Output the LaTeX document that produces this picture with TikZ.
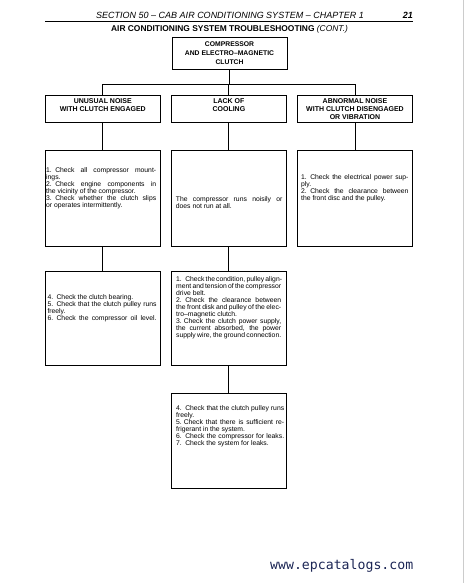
\documentclass[tikz,border=0pt]{standalone}
\usepackage{fontspec}
\setmainfont{Liberation Sans}
\newfontfamily\wmfont{DejaVu Sans Mono}
\definecolor{wmblue}{RGB}{28,38,85}
\newlength\mywd
\newcommand\myJ[1]{\hbox to\mywd{\spaceskip=1.9pt plus 20pt minus 0.8pt\relax\xspaceskip=\spaceskip\relax #1}}
\newcommand\myL[1]{\hbox to\mywd{#1\hfil}}
\newcommand\numdot[1]{#1.\kern3.4pt}
\newcommand\numdotS[1]{#1.\kern1.9pt}
\tikzset{
  box/.style={draw, line width=0.9pt, minimum width=115pt, inner sep=0pt},
  conn/.style={line width=0.9pt},
  head/.style={font=\fontsize{7}{8}\selectfont\bfseries, align=center, inner sep=0pt},
  body/.style={font=\fontsize{6.8}{7}\selectfont, inner sep=0pt, anchor=north west, align=left},
}
\begin{document}
\begin{tikzpicture}[x=1pt,y=-1pt]
\fill[white] (0,0) rectangle (464,583);
\useasboundingbox (0,0) rectangle (464,583);
\draw[gray!40, line width=0.6pt] (463.4,0) -- (463.4,583);
% header
\node[font=\fontsize{9}{10}\selectfont\itshape, inner sep=0pt] (hdr) at (230,15) {SECTION 50 \textendash\ CAB AIR CONDITIONING SYSTEM \textendash\ CHAPTER 1};
\node[font=\fontsize{9}{10}\selectfont\bfseries\itshape, inner sep=0pt, anchor=east] (pg) at (413,15) {21};
\coordinate (rl) at (45,21.5);
\coordinate (rr) at (413,21.5);
\draw[line width=0.8pt] (rl) -- (rr);
\node[font=\fontsize{8.4}{10}\selectfont\bfseries, inner sep=0pt] (sub) at (229.5,29) {AIR CONDITIONING SYSTEM TROUBLESHOOTING {\mdseries\itshape (CONT.)}};
% boxes
\node[box, minimum height=32pt, font=\fontsize{6.8}{9}\selectfont\bfseries, align=center] (top) at (229.5,53) {COMPRESSOR\\AND ELECTRO\textendash MAGNETIC\\CLUTCH};
\node[box, minimum height=27pt] (r2a) at (102.8,108.8) {};
\node[box, minimum height=27pt] (r2b) at (228.9,108.8) {};
\node[box, minimum height=27pt] (r2c) at (355,108.8) {};
\node[box, minimum height=96pt] (r3a) at (102.8,198) {};
\node[box, minimum height=96pt] (r3b) at (228.9,198) {};
\node[box, minimum height=96pt] (r3c) at (355,198) {};
\node[box, minimum height=94.4pt] (r4a) at (102.8,318.5) {};
\node[box, minimum height=94.4pt] (r4b) at (228.9,318.5) {};
\node[box, minimum height=95pt] (r5) at (228.9,440.8) {};
% connectors
\coordinate (bus) at (0,84.3);
\draw[conn] (top.south) -- (top.south |- bus);
\draw[conn] (r2a.north) -- (r2a.north |- bus) -- (r2c.north |- bus) -- (r2c.north);
\draw[conn] (r2b.north) -- (r2b.north |- bus);
\draw[conn] (r2a.south) -- (r3a.north);
\draw[conn] (r2b.south) -- (r3b.north);
\draw[conn] (r2c.south) -- (r3c.north);
\draw[conn] (r3a.south) -- (r4a.north);
\draw[conn] (r3b.south) -- (r4b.north);
\draw[conn] (r4b.south) -- (r5.north);
% row 2 labels
\node[head, anchor=north] (l2a) at (102.8,98.2) {UNUSUAL NOISE\\WITH CLUTCH ENGAGED};
\node[head, anchor=north] (l2b) at (228.9,98.2) {LACK OF\\COOLING};
\node[head, anchor=north] (l2c) at (355,98.2) {ABNORMAL NOISE\\WITH CLUTCH DISENGAGED\\OR VIBRATION};
% body texts
\setlength\mywd{110pt}
\node[body] (t3a) at (46,167.4) {%
\myJ{\numdot{1}Check all compressor mount-}\\
\myL{ings.}\\
\myJ{\numdot{2}Check engine components in}\\
\myL{the vicinity of the compressor.}\\
\myJ{\numdot{3}Check whether the clutch slips}\\
\myL{or operates intermittently.}};
\setlength\mywd{106.6pt}
\node[body] (t3b) at (175.7,196.4) {%
\myJ{The compressor runs noisily or}\\
\myL{does not run at all.}};
\setlength\mywd{107.3pt}
\node[body] (t3c) at (301,174.7) {%
\myJ{\numdot{1}Check the electrical power sup-}\\
\myL{ply.}\\
\myJ{\numdot{2}Check the clearance between}\\
\myL{the front disc and the pulley.}};
\setlength\mywd{109pt}
\node[body] (t4a) at (47.3,294.7) {%
\myL{\numdot{4}Check the clutch bearing.}\\
\myJ{\numdot{5}Check that the clutch pulley runs}\\
\myL{freely.}\\
\myJ{\numdot{6}Check the compressor oil level.}};
\setlength\mywd{105pt}
\node[body] (t4b) at (176,276.4) {%
\myJ{\numdot{1}Check the condition, pulley align-}\\
\myJ{ment and tension of the compressor}\\
\myL{drive belt.}\\
\myJ{\numdot{2}Check the clearance between}\\
\myJ{the front disk and pulley of the elec-}\\
\myL{tro\textendash magnetic clutch.}\\
\myJ{\numdotS{3}Check the clutch power supply,}\\
\myJ{the current absorbed, the power}\\
\myJ{supply wire, the ground connection.}};
\setlength\mywd{108pt}
\node[body] (t5) at (176,405.7) {%
\myJ{\numdot{4}Check that the clutch pulley runs}\\
\myL{freely.}\\
\myJ{\numdotS{5}Check that there is sufficient re-}\\
\myL{frigerant in the system.}\\
\myJ{\numdot{6}Check the compressor for leaks.}\\
\myL{\numdot{7}Check the system for leaks.}};
% watermark
\node[font=\wmfont\fontsize{13.2}{15}\selectfont, text=wmblue, anchor=west, inner sep=0pt] (wm) at (270,565.7) {www.epcatalogs.com};
\end{tikzpicture}
\end{document}
